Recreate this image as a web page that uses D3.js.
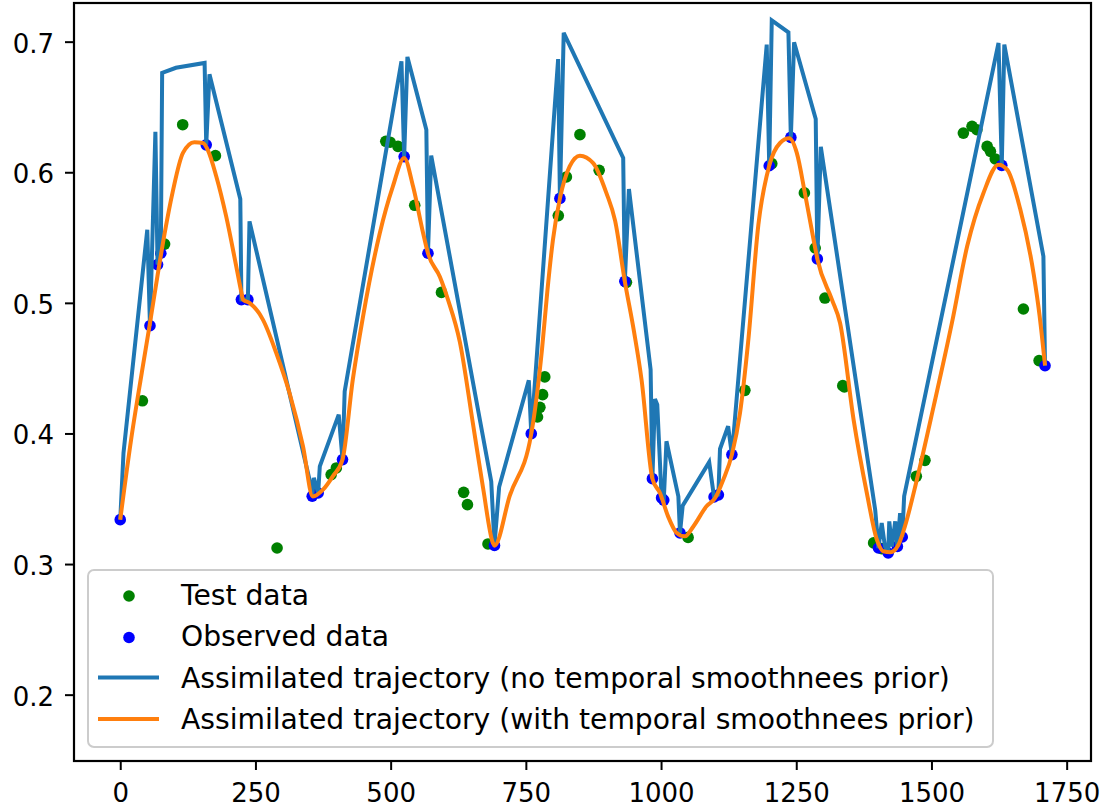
<!DOCTYPE html>
<html>
<head>
<meta charset="utf-8">
<script src="https://cdn.jsdelivr.net/npm/d3@7"></script>
<style>
  html, body { margin: 0; padding: 0; background: #ffffff; }
  svg { display: block; }
  text { font-family: "DejaVu Sans", sans-serif; fill: #000; }
</style>
</head>
<body>
<svg id="chart" width="1107" height="810"></svg>
<script>
// ---- data ---------------------------------------------------------------
const testX = [41, 82, 115.5, 176, 290, 390, 399.6, 491, 499, 513.6, 544.5, 594, 635, 642,
  680, 771.6, 776, 781, 785, 810, 825, 850, 885.6, 936, 1050, 1155, 1204.7, 1265, 1285,
  1303, 1336, 1339, 1393, 1408, 1472, 1488, 1559, 1575, 1584, 1603, 1609, 1618, 1670, 1699];
const testY = [0.425, 0.545, 0.6364, 0.6127, 0.3123, 0.3685, 0.3736, 0.6237, 0.623, 0.6198,
  0.5747, 0.508, 0.3549, 0.3455, 0.3154, 0.4126, 0.420, 0.4297, 0.4433, 0.5668, 0.5964,
  0.6288, 0.6015, 0.5157, 0.3204, 0.433, 0.6066, 0.5842, 0.542, 0.5037, 0.4366, 0.4356,
  0.3162, 0.3118, 0.3672, 0.3794, 0.630, 0.6352, 0.6326, 0.6198, 0.616, 0.6102, 0.4953, 0.4558];

const obsX = [0, 55, 69, 75, 159, 224, 236, 355, 366, 411, 525, 569, 692, 760, 813, 933,
  984, 1001, 1005, 1035, 1098, 1106, 1131, 1200, 1240, 1289, 1402, 1420, 1437, 1446, 1630, 1710];
const obsY = [0.334, 0.4825, 0.5293, 0.538, 0.621, 0.5025, 0.5025, 0.352, 0.3544, 0.380,
  0.612, 0.538, 0.3143, 0.3998, 0.580, 0.5165, 0.3654, 0.3506, 0.349, 0.3238, 0.3514,
  0.353, 0.3838, 0.605, 0.6267, 0.5336, 0.3123, 0.3085, 0.3135, 0.3207, 0.6053, 0.4519];

// trajectory without the temporal smoothness prior
const rawX = [0, 6, 50, 55, 65, 69, 75, 77.5, 103, 156, 159, 165, 222, 224, 236, 239,
  350, 355, 358, 366, 369, 404, 411, 415, 520, 525, 531, 566, 569, 575, 686, 692, 700.6,
  755.5, 760, 809.7, 813, 820, 930, 933, 940.6, 980.7, 984, 988.7, 993, 1001, 1005, 1010,
  1032, 1035, 1040, 1089, 1098, 1106, 1109, 1124, 1131, 1195.4, 1200, 1204.7, 1235.5,
  1240, 1246, 1286, 1289, 1295.4, 1396, 1402, 1408, 1414, 1420, 1422, 1427, 1433, 1437,
  1442, 1446, 1449.5, 1624, 1630, 1634.7, 1707, 1710];
const rawY = [0.334, 0.385, 0.556, 0.4825, 0.631, 0.5293, 0.538, 0.676, 0.680, 0.6837,
  0.621, 0.675, 0.5796, 0.5025, 0.5025, 0.5624, 0.3646, 0.352, 0.366, 0.3544, 0.3748,
  0.4144, 0.380, 0.4322, 0.685, 0.612, 0.6883, 0.6326, 0.538, 0.6127, 0.3633, 0.3143,
  0.359, 0.4407, 0.3998, 0.6867, 0.580, 0.7067, 0.611, 0.5165, 0.5872, 0.4489, 0.3654,
  0.4264, 0.422, 0.3506, 0.349, 0.394, 0.3518, 0.3238, 0.3447, 0.378, 0.3514, 0.353,
  0.3881, 0.4055, 0.3838, 0.6977, 0.605, 0.7163, 0.7071, 0.6267, 0.6995, 0.6408, 0.5336,
  0.6194, 0.3414, 0.3123, 0.3315, 0.3135, 0.3085, 0.3327, 0.3135, 0.3327, 0.3135, 0.339,
  0.3207, 0.352, 0.699, 0.6053, 0.6977, 0.5356, 0.4519];

// trajectory with the temporal smoothness prior
const smoothX = [0, 20, 40, 55, 69, 82, 97, 116, 137, 153, 162, 177.5, 196, 214.5,
  224, 227, 239, 264, 288.5, 313, 338, 356, 375, 393, 411, 430, 449, 480, 504, 525, 541.5,
  560, 569, 591, 606, 628, 652, 671, 689, 692, 720, 760, 770, 780, 790, 800, 813, 831, 850,
  874.5, 899, 915, 933, 950, 964, 984, 998, 1013, 1029, 1044, 1060, 1084, 1100, 1115,
  1131, 1146, 1161, 1180, 1200, 1220, 1237, 1251, 1266, 1282, 1289, 1316, 1331, 1356,
  1380.5, 1399, 1411, 1424, 1439, 1451, 1473, 1504, 1538, 1566, 1596, 1624, 1640, 1664,
  1689, 1700, 1710];
const smoothY = [0.334, 0.395, 0.447, 0.4846, 0.521, 0.553, 0.585, 0.6148, 0.623,
  0.6224, 0.617, 0.597, 0.566, 0.528, 0.508, 0.5025, 0.50, 0.487, 0.4616, 0.431, 0.390,
  0.3518, 0.357, 0.3672, 0.380, 0.4412, 0.4897, 0.5535, 0.589, 0.611, 0.589, 0.5535,
  0.538, 0.520, 0.5025, 0.470, 0.408, 0.358, 0.3162, 0.314, 0.352, 0.3998, 0.428, 0.465,
  0.510, 0.548, 0.580, 0.6045, 0.6127, 0.607, 0.584, 0.563, 0.5165, 0.478, 0.441, 0.3654,
  0.3544, 0.3365, 0.3238, 0.3212, 0.329, 0.3442, 0.3506, 0.3646, 0.3838, 0.4157, 0.47,
  0.56, 0.605, 0.6224, 0.626, 0.6148, 0.584, 0.5484, 0.5336, 0.5025, 0.4846, 0.4106,
  0.3544, 0.3187, 0.3098, 0.309, 0.3148, 0.329, 0.3646, 0.4207, 0.485, 0.5433, 0.584,
  0.6058, 0.602, 0.572, 0.522, 0.49, 0.452];

const xTicks = [0, 250, 500, 750, 1000, 1250, 1500, 1750];
const yTicks = [0.2, 0.3, 0.4, 0.5, 0.6, 0.7];
const seriesNames = [
  "Test data",
  "Observed data",
  "Assimilated trajectory (no temporal smoothnees prior)",
  "Assimilated trajectory (with temporal smoothnees prior)"
];

// ---- layout -------------------------------------------------------------
const plot = { left: 74, top: 3, right: 1091, bottom: 761 };
const tickFont = 26;
const legendFont = 28.2;
const svg = d3.select("#chart");

const x = d3.scaleLinear().domain([-85.5, 1795]).range([plot.left, plot.right]);
const y = d3.scaleLinear().domain([0.1492, 0.7296]).range([plot.bottom, plot.top]);

const zip = (xs, ys) => xs.map((v, i) => [v, ys[i]]);

svg.append("defs").append("clipPath").attr("id", "plotclip")
  .append("rect")
  .attr("x", plot.left).attr("y", plot.top)
  .attr("width", plot.right - plot.left).attr("height", plot.bottom - plot.top);

const g = svg.append("g").attr("clip-path", "url(#plotclip)");

// test points
g.append("g").selectAll("circle").data(zip(testX, testY)).join("circle")
  .attr("cx", d => x(d[0])).attr("cy", d => y(d[1])).attr("r", 5.8)
  .attr("fill", "#008000");

// observed points
g.append("g").selectAll("circle").data(zip(obsX, obsY)).join("circle")
  .attr("cx", d => x(d[0])).attr("cy", d => y(d[1])).attr("r", 5.8)
  .attr("fill", "#0000ff");

// trajectories
const rawLine = d3.line().x(d => x(d[0])).y(d => y(d[1]));
g.append("path").datum(zip(rawX, rawY))
  .attr("d", rawLine)
  .attr("fill", "none").attr("stroke", "#1f77b4").attr("stroke-width", 4)
  .attr("stroke-linejoin", "miter").attr("stroke-miterlimit", 4);

const smoothLine = d3.line().x(d => x(d[0])).y(d => y(d[1])).curve(d3.curveMonotoneX);
g.append("path").datum(zip(smoothX, smoothY))
  .attr("d", smoothLine)
  .attr("fill", "none").attr("stroke", "#ff7f0e").attr("stroke-width", 4)
  .attr("stroke-linejoin", "round");

// ---- axes -----------------------------------------------------------------
const xAxis = svg.append("g").attr("transform", `translate(0,${plot.bottom})`)
  .call(d3.axisBottom(x).tickValues(xTicks).tickFormat(d3.format("d"))
    .tickSize(9).tickPadding(12));
const yAxis = svg.append("g").attr("transform", `translate(${plot.left},0)`)
  .call(d3.axisLeft(y).tickValues(yTicks).tickFormat(d3.format(".1f"))
    .tickSize(9).tickPadding(11));

[xAxis, yAxis].forEach(a => {
  a.select(".domain").remove();
  a.selectAll(".tick line").attr("stroke", "#000").attr("stroke-width", 2);
  a.selectAll(".tick text")
    .attr("font-family", "DejaVu Sans, sans-serif")
    .attr("font-size", tickFont).attr("fill", "#000");
});
xAxis.selectAll(".tick text").attr("dy", null).attr("y", 40.7);
yAxis.selectAll(".tick text").attr("dy", null).attr("y", 0)
  .attr("transform", "translate(0,10.5)");

// frame
svg.append("rect")
  .attr("x", plot.left).attr("y", plot.top)
  .attr("width", plot.right - plot.left).attr("height", plot.bottom - plot.top)
  .attr("fill", "none").attr("stroke", "#000").attr("stroke-width", 2.2);

// ---- legend ---------------------------------------------------------------
const legend = svg.append("g");
legend.append("rect")
  .attr("x", 88).attr("y", 570).attr("width", 905).attr("height", 177)
  .attr("rx", 6).attr("ry", 6)
  .attr("fill", "#ffffff").attr("fill-opacity", 0.8)
  .attr("stroke", "#cccccc").attr("stroke-width", 2);

const rowY = [596, 637.5, 679, 720.5];
const kinds = ["dot", "dot", "line", "line"];
const colors = ["#008000", "#0000ff", "#1f77b4", "#ff7f0e"];
seriesNames.forEach((name, i) => {
  if (kinds[i] === "dot") {
    legend.append("circle").attr("cx", 129).attr("cy", rowY[i]).attr("r", 5.8)
      .attr("fill", colors[i]);
  } else {
    legend.append("line").attr("x1", 98).attr("x2", 159)
      .attr("y1", rowY[i] - 1.5).attr("y2", rowY[i] - 1.5)
      .attr("stroke", colors[i]).attr("stroke-width", 4);
  }
  legend.append("text").attr("x", 181).attr("y", rowY[i] + 8.5)
    .attr("font-size", legendFont).text(name);
});
</script>
</body>
</html>
